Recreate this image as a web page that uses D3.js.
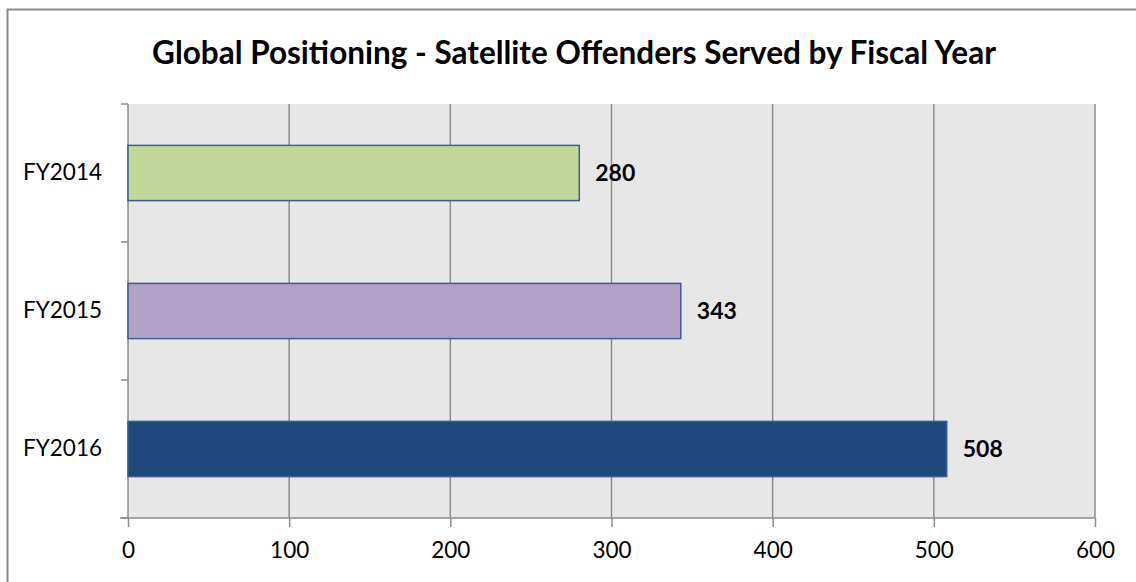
<!DOCTYPE html>
<html>
<head>
<meta charset="utf-8">
<script src="https://cdn.jsdelivr.net/npm/d3@7/dist/d3.min.js"></script>
<style>
  body { margin: 0; background: #fff; }
  svg { display: block; font-family: Lato, "Open Sans", sans-serif; }
</style>
</head>
<body>
<svg width="1136" height="582"></svg>
<script>
// data
var years = ["FY2014", "FY2015", "FY2016"]
var served = [280, 343, 508]
var barColors = ["#c4d79b", "#b3a2c7", "#1f497d"]
var xTicks = [0, 100, 200, 300, 400, 500, 600]
var title = "Global Positioning - Satellite Offenders Served by Fiscal Year"

var svg = d3.select("svg")
var W = 1136, H = 582
var plot = {left: 128, right: 1095, top: 104, bottom: 518}

// outer chart frame (runs off the right/bottom like the screenshot)
svg.append("rect")
    .attr("x", 7.5).attr("y", 9.5)
    .attr("width", W + 20).attr("height", H + 20)
    .attr("fill", "#fff")
    .attr("stroke", "#888").attr("stroke-width", 2)

svg.append("text")
    .attr("x", 574).attr("y", 64)
    .attr("text-anchor", "middle")
    .style("font-size", "31.5px").style("font-weight", "bold")
    .text(title)

var x = d3.scaleLinear().domain([0, 600]).range([plot.left, plot.right])
var y = d3.scaleBand().domain(years).range([plot.top, plot.bottom])
    .paddingInner(0.6).paddingOuter(0.3)

// plot background
svg.append("rect")
    .attr("x", plot.left).attr("y", plot.top)
    .attr("width", plot.right - plot.left).attr("height", plot.bottom - plot.top)
    .attr("fill", "#e7e7e7")

// vertical gridlines
svg.append("g").selectAll("line")
    .data(xTicks.slice(1))
    .enter().append("line")
    .attr("x1", function(d) { return x(d) }).attr("x2", function(d) { return x(d) })
    .attr("y1", plot.top).attr("y2", plot.bottom)
    .attr("stroke", "#8c8c8c").attr("stroke-width", 1.5)

// x axis
var xAxis = svg.append("g")
    .attr("transform", "translate(0," + plot.bottom + ")")
    .call(d3.axisBottom(x).tickValues(xTicks).tickSize(9).tickPadding(15).tickSizeOuter(0))
xAxis.select(".domain").remove()
xAxis.selectAll(".tick line").attr("stroke", "#8c8c8c").attr("stroke-width", 1.5)
xAxis.selectAll("text").style("font-size", "22.5px").style("font-family", "Lato").attr("fill", "#000")
svg.append("line")
    .attr("x1", plot.left - 8).attr("x2", plot.right)
    .attr("y1", plot.bottom).attr("y2", plot.bottom)
    .attr("stroke", "#8c8c8c").attr("stroke-width", 1.5)

// y axis: line + ticks between categories
svg.append("line")
    .attr("x1", plot.left).attr("x2", plot.left)
    .attr("y1", plot.top).attr("y2", plot.bottom)
    .attr("stroke", "#8c8c8c").attr("stroke-width", 1.5)
var bounds = d3.range(years.length + 1).map(function(i) { return plot.top + i * (plot.bottom - plot.top) / years.length })
svg.append("g").selectAll("line")
    .data(bounds)
    .enter().append("line")
    .attr("x1", plot.left - 7).attr("x2", plot.left)
    .attr("y1", function(d) { return d }).attr("y2", function(d) { return d })
    .attr("stroke", "#8c8c8c").attr("stroke-width", 1.5)

var yAxis = svg.append("g")
    .attr("transform", "translate(" + plot.left + ",0)")
    .call(d3.axisLeft(y).tickSize(0).tickPadding(26))
yAxis.select(".domain").remove()
yAxis.selectAll("text").style("font-size", "22.5px").style("font-family", "Lato").attr("fill", "#000")

// bars
svg.append("g").selectAll("rect")
    .data(served)
    .enter().append("rect")
    .attr("x", x(0))
    .attr("y", function(d, i) { return y(years[i]) })
    .attr("width", function(d) { return x(d) - x(0) })
    .attr("height", y.bandwidth())
    .attr("fill", function(d, i) { return barColors[i] })
    .attr("stroke", "#3a5f8e").attr("stroke-width", 1.5)

// value labels
svg.append("g").selectAll("text")
    .data(served)
    .enter().append("text")
    .attr("x", function(d) { return x(d) + 16 })
    .attr("y", function(d, i) { return y(years[i]) + y.bandwidth() / 2 })
    .attr("dy", "0.36em")
    .style("font-size", "23px").style("font-weight", "bold")
    .text(function(d) { return d })
</script>
</body>
</html>
